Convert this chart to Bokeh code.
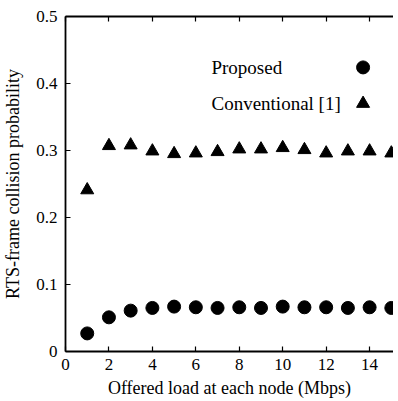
from bokeh.plotting import figure
from bokeh.models import LinearAxis, SingleIntervalTicker, Range1d, Label
from bokeh.embed import file_html
from bokeh.resources import INLINE

# ---- data ----
offered_load = [1, 2, 3, 4, 5, 6, 7, 8, 9, 10, 11, 12, 13, 14, 15]
proposed = [0.027, 0.051, 0.061, 0.065, 0.067, 0.066, 0.065, 0.066, 0.065, 0.067, 0.066, 0.066, 0.065, 0.066, 0.065]
conventional = [0.241, 0.307, 0.308, 0.299, 0.295, 0.296, 0.298, 0.302, 0.302, 0.304, 0.301, 0.296, 0.299, 0.299, 0.296]
series_names = ["Proposed", "Conventional [1]"]
x_label = "Offered load at each node (Mbps)"
y_label = "RTS-frame collision probability"

FONT = "Liberation Serif, Times New Roman, serif"

p = figure(width=393, height=400, output_backend="svg", toolbar_location=None,
           x_range=Range1d(0, 15.1), y_range=Range1d(0, 0.5),
           min_border_left=61, min_border_top=16, min_border_right=0, min_border_bottom=0,
           background_fill_color="white", border_fill_color="white")
p.outline_line_color = None
p.grid.visible = False

# bottom axis
xa = p.xaxis[0]
xa.ticker = SingleIntervalTicker(interval=2)
xa.axis_label = x_label
# left axis
ya = p.yaxis[0]
ya.ticker = SingleIntervalTicker(interval=0.1)
ya.major_label_overrides = {0: "0"}
ya.axis_label = y_label

for ax in (xa, ya):
    ax.axis_line_color = "black"
    ax.axis_line_width = 1.8
    ax.major_tick_line_color = "black"
    ax.major_tick_line_width = 1.2
    ax.major_tick_in = 5
    ax.major_tick_out = 0
    ax.minor_tick_line_color = None
    ax.major_label_text_font = FONT
    ax.major_label_text_font_size = "17px"
    ax.major_label_text_color = "black"
    ax.axis_label_text_font = FONT
    ax.axis_label_text_font_style = "normal"
    ax.axis_label_text_color = "black"
    ax.axis_label_text_font_size = "18px"

xa.major_label_standoff = 3
xa.axis_label_standoff = 5
ya.major_label_standoff = 4
ya.axis_label_standoff = 10

# top axis (ticks only)
top = LinearAxis(ticker=SingleIntervalTicker(interval=2))
top.axis_line_color = "black"
top.axis_line_width = 1.8
top.major_tick_line_color = "black"
top.major_tick_line_width = 1.2
top.major_tick_in = 5
top.major_tick_out = 0
top.minor_tick_line_color = None
top.major_label_text_font_size = "0px"
top.major_label_text_color = None
top.major_label_standoff = 0
p.add_layout(top, "above")

# data
p.scatter(offered_load, conventional, marker="triangle", size=13,
          fill_color="black", line_color="black")
p.scatter(offered_load, proposed, marker="circle", size=13,
          fill_color="black", line_color="black")

# legend (manual: label left, marker right)
LEG_TEXT_X = 6.72  # data x
LEG_MARK_X = 13.7  # data x
LEG_Y = [0.424, 0.370]
markers = ["circle", "triangle"]
for name, yy, mk in zip(series_names, LEG_Y, markers):
    lab = Label(x=LEG_TEXT_X, y=yy, text=name, text_font=FONT, text_font_size="19px",
                text_color="black", text_baseline="middle", text_align="left")
    p.add_layout(lab)
    p.scatter([LEG_MARK_X], [yy], marker=mk, size=13, fill_color="black", line_color="black")

open("out.html", "w").write(file_html(p, INLINE))
